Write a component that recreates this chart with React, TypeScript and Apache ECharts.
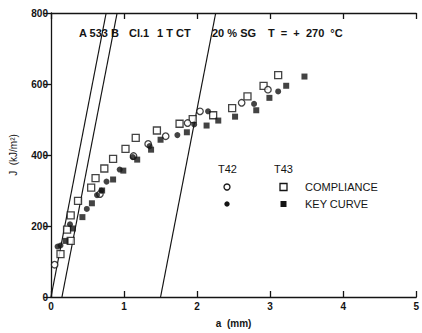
import React, { useEffect, useRef } from "react";
import * as echarts from "echarts";

const xTicks = [0, 1, 2, 3, 4, 5];
const yTicks = [0, 200, 400, 600, 800];
const titleParts = ["A 533 B", "Cl.1", "1 T CT", "20 % SG", "T  =  +  270  °C"];

// T42 compliance (open circles)
const t42Compliance: number[][] = [
  [0.05, 91], [0.67, 290], [1.13, 397], [1.33, 431], [1.57, 453], [1.87, 490],
  [2.04, 523], [2.61, 547], [2.97, 584],
];
// T43 compliance (open squares)
const t43Compliance: number[][] = [
  [0.13, 121], [0.22, 190], [0.27, 158], [0.27, 230], [0.37, 271], [0.55, 308],
  [0.61, 335], [0.73, 362], [0.85, 389], [1.02, 417], [1.16, 448], [1.45, 469],
  [1.76, 488], [1.94, 501], [2.22, 512], [2.48, 532], [2.69, 565], [2.91, 595],
  [3.11, 625],
];
// T42 key curve (filled circles)
const t42KeyCurve: number[][] = [
  [0.09, 142], [0.13, 145], [0.26, 205], [0.49, 248], [0.63, 287], [0.69, 300],
  [0.76, 325], [0.94, 359], [1.12, 394], [1.35, 425], [1.73, 456], [1.96, 486],
  [2.15, 523], [2.78, 544], [3.11, 579],
];
// T43 key curve (filled squares)
const t43KeyCurve: number[][] = [
  [0.2, 158], [0.3, 193], [0.43, 225], [0.56, 264], [0.7, 300], [0.85, 331],
  [0.99, 356], [1.18, 387], [1.37, 415], [1.5, 443], [1.86, 464], [2.13, 483],
  [2.29, 497], [2.52, 508], [2.81, 526], [2.99, 561], [3.22, 595], [3.47, 621],
];
// Blunting / offset lines (end points)
const bluntingLine: number[][] = [[0, 0], [0.755, 800]];
const offsetLine015: number[][] = [[0.15, 0], [0.905, 800]];
const offsetLine150: number[][] = [[1.5, 0], [2.255, 800]];

const INK = "#141414";
const FONT = "'Liberation Sans', Arial, sans-serif";
const titleX = [79, 129, 157, 212, 268];

export default function App() {
  const ref = useRef<HTMLDivElement>(null);
  useEffect(() => {
    if (!ref.current) return;
    const chart = echarts.init(ref.current, undefined, { renderer: "svg" });
    const lineSeries = (data: number[][]) => ({
      type: "line",
      data,
      symbol: "none",
      lineStyle: { color: INK, width: 1.2 },
      silent: true,
      z: 1,
    });
    chart.setOption({
      animation: false,
      backgroundColor: "#ffffff",
      grid: { left: 50, top: 13, width: 371, height: 288 },
      xAxis: [
        {
          type: "value",
          min: xTicks[0],
          max: xTicks[xTicks.length - 1],
          interval: 1,
          position: "bottom",
          axisLine: { lineStyle: { color: INK, width: 1.3 } },
          axisTick: { inside: true, length: 6, lineStyle: { color: INK, width: 1.3 } },
          axisLabel: { color: INK, fontFamily: FONT, fontWeight: "bold", fontSize: 10, margin: 4 },
          splitLine: { show: false },
          name: "a  (mm)",
          nameLocation: "middle",
          nameGap: 21,
          nameTextStyle: { color: INK, fontFamily: FONT, fontWeight: "bold", fontSize: 10 },
        },
        {
          type: "value",
          min: xTicks[0],
          max: xTicks[xTicks.length - 1],
          interval: 1,
          position: "top",
          axisLine: { lineStyle: { color: INK, width: 1.3 } },
          axisTick: { inside: true, length: 6, lineStyle: { color: INK, width: 1.3 } },
          axisLabel: { show: false },
          splitLine: { show: false },
        },
      ],
      yAxis: {
        type: "value",
        min: yTicks[0],
        max: yTicks[yTicks.length - 1],
        interval: 200,
        axisLine: { lineStyle: { color: INK, width: 1.3 } },
        axisTick: { inside: false, length: 7, lineStyle: { color: INK, width: 1.3 } },
        axisLabel: { color: INK, fontFamily: FONT, fontWeight: "bold", fontSize: 10, margin: 3 },
        splitLine: { show: false },
        name: "J  (kJ/m²)",
        nameLocation: "middle",
        nameGap: 33,
        nameRotate: 90,
        nameTextStyle: { color: INK, fontFamily: FONT, fontSize: 10 },
      },
      series: [
        lineSeries(bluntingLine),
        lineSeries(offsetLine015),
        lineSeries(offsetLine150),
        {
          type: "scatter",
          data: t43Compliance,
          symbol: "rect",
          symbolSize: 7,
          itemStyle: { color: "#ffffff", borderColor: INK, borderWidth: 1.3 },
          z: 3,
        },
        {
          type: "scatter",
          data: t42Compliance,
          symbol: "circle",
          symbolSize: 6.5,
          itemStyle: { color: "#ffffff", borderColor: INK, borderWidth: 1.3 },
          z: 4,
        },
        {
          type: "scatter",
          data: t43KeyCurve,
          symbol: "rect",
          symbolSize: 6,
          itemStyle: { color: INK },
          z: 5,
        },
        {
          type: "scatter",
          data: t42KeyCurve,
          symbol: "circle",
          symbolSize: 6,
          itemStyle: { color: INK },
          z: 5,
        },
      ],
      graphic: [
        ...titleParts.map((t, i) => ({
          type: "text",
          left: titleX[i],
          top: 27,
          style: { text: t, fill: INK, font: `bold 11px ${FONT}` },
        })),
        { type: "text", left: 218, top: 163, style: { text: "T42", fill: INK, font: `11px ${FONT}` } },
        { type: "text", left: 274, top: 163, style: { text: "T43", fill: INK, font: `11px ${FONT}` } },
        { type: "circle", shape: { cx: 227, cy: 187, r: 3 }, style: { fill: "#fff", stroke: INK, lineWidth: 1.3 } },
        { type: "rect", shape: { x: 280, y: 183.5, width: 7, height: 7 }, style: { fill: "#fff", stroke: INK, lineWidth: 1.3 } },
        { type: "text", left: 305, top: 181, style: { text: "COMPLIANCE", fill: INK, font: `11px ${FONT}` } },
        { type: "circle", shape: { cx: 227, cy: 204, r: 2.7 }, style: { fill: INK } },
        { type: "rect", shape: { x: 280.5, y: 201, width: 6, height: 6 }, style: { fill: INK } },
        { type: "text", left: 305, top: 198, style: { text: "KEY CURVE", fill: INK, font: `11px ${FONT}` } },
      ],
    });
    return () => chart.dispose();
  }, []);
  return (
    <div
      ref={ref}
      style={{ position: "absolute", left: 0, top: 0, width: 422, height: 333 }}
    />
  );
}
